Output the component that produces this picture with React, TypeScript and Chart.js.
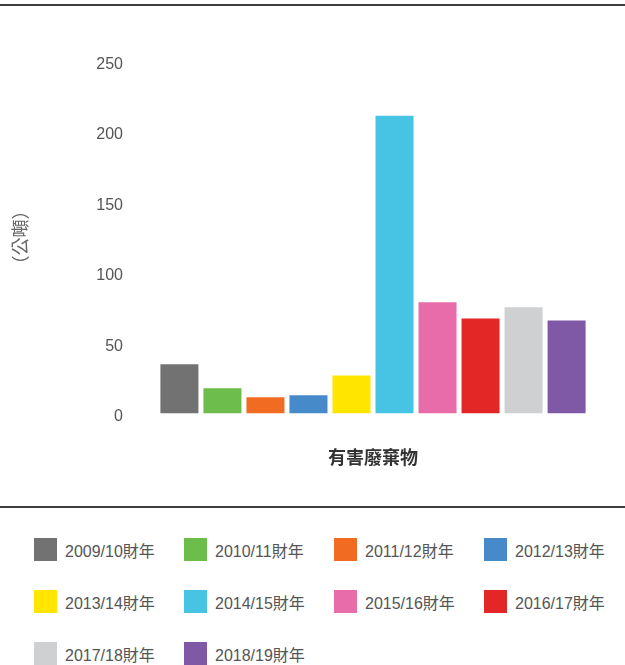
import React, { useEffect, useRef } from "react";
import { Chart, registerables } from "chart.js";

Chart.register(...registerables);

const categories = ["有害廢棄物"];
const seriesLabels = [
  "2009/10財年",
  "2010/11財年",
  "2011/12財年",
  "2012/13財年",
  "2013/14財年",
  "2014/15財年",
  "2015/16財年",
  "2016/17財年",
  "2017/18財年",
  "2018/19財年",
];
const seriesValues = [35, 18, 11.5, 13, 27, 211.5, 79, 67.5, 75.5, 66];
const seriesColors = [
  "#717271",
  "#6cbd4b",
  "#f26b23",
  "#468ac9",
  "#ffe500",
  "#47c3e4",
  "#e76ca9",
  "#e32726",
  "#cfd0d2",
  "#8059a6",
];
const yAxisTitle = "（公噸）";
const yMin = 0;
const yMax = 250;
const yStep = 50;

const FONT = "'Liberation Sans', 'Noto Sans CJK TC', Arial, sans-serif";
const CJK_FONT = "'Noto Sans CJK TC', sans-serif";

export default function App() {
  const canvasRef = useRef<HTMLCanvasElement | null>(null);

  useEffect(() => {
    document.body.style.margin = "0";
    const canvas = canvasRef.current;
    if (!canvas) return;
    const chart = new Chart(canvas, {
      type: "bar",
      data: {
        labels: categories,
        datasets: seriesLabels.map((label, i) => ({
          label,
          data: [seriesValues[i]],
          backgroundColor: seriesColors[i],
          borderWidth: 0,
          barPercentage: 0.884,
          categoryPercentage: 0.9,
        })),
      },
      options: {
        responsive: false,
        animation: false,
        layout: { padding: { top: 55.5, right: 13, left: 0, bottom: 0 } },
        plugins: {
          legend: { display: false },
          tooltip: { enabled: false },
        },
        scales: {
          x: {
            grid: { display: false, drawTicks: false },
            border: { display: false },
            ticks: {
              padding: 33,
              color: "#333",
              font: { family: CJK_FONT, size: 18, weight: "bold" },
            },
            afterFit: (scale: any) => {
              scale.height = 92.5;
            },
          },
          y: {
            min: yMin,
            max: yMax,
            grid: { display: false, drawTicks: false },
            border: { display: false },
            ticks: {
              stepSize: yStep,
              padding: 11,
              labelOffset: 3,
              color: "#555",
              font: { family: FONT, size: 16 },
            },
            title: {
              display: true,
              text: yAxisTitle,
              color: "#666",
              padding: { top: 9, bottom: 0 },
              font: { family: CJK_FONT, size: 18 },
            },
            afterFit: (scale: any) => {
              scale.width = 134;
            },
          },
        },
      },
    });
    return () => chart.destroy();
  }, []);

  return (
    <div style={{ width: 625, position: "relative", fontFamily: FONT }}>
      <div style={{ height: 4 }} />
      <div style={{ height: 2, background: "#3d3d3d" }} />
      <canvas ref={canvasRef} width={625} height={500} style={{ display: "block" }} />
      <div style={{ height: 2, background: "#3d3d3d" }} />
      <div style={{ position: "relative", height: 157 }}>
        {seriesLabels.map((label, i) => {
          const col = i % 4;
          const row = Math.floor(i / 4);
          return (
            <div
              key={label}
              style={{
                position: "absolute",
                left: 34 + col * 150,
                top: 30 + row * 52,
                display: "flex",
                alignItems: "center",
                height: 23,
              }}
            >
              <div style={{ width: 23, height: 23, background: seriesColors[i] }} />
              <span style={{ marginLeft: 8, fontSize: 16, color: "#555", whiteSpace: "nowrap" }}>
                {label}
              </span>
            </div>
          );
        })}
      </div>
    </div>
  );
}
